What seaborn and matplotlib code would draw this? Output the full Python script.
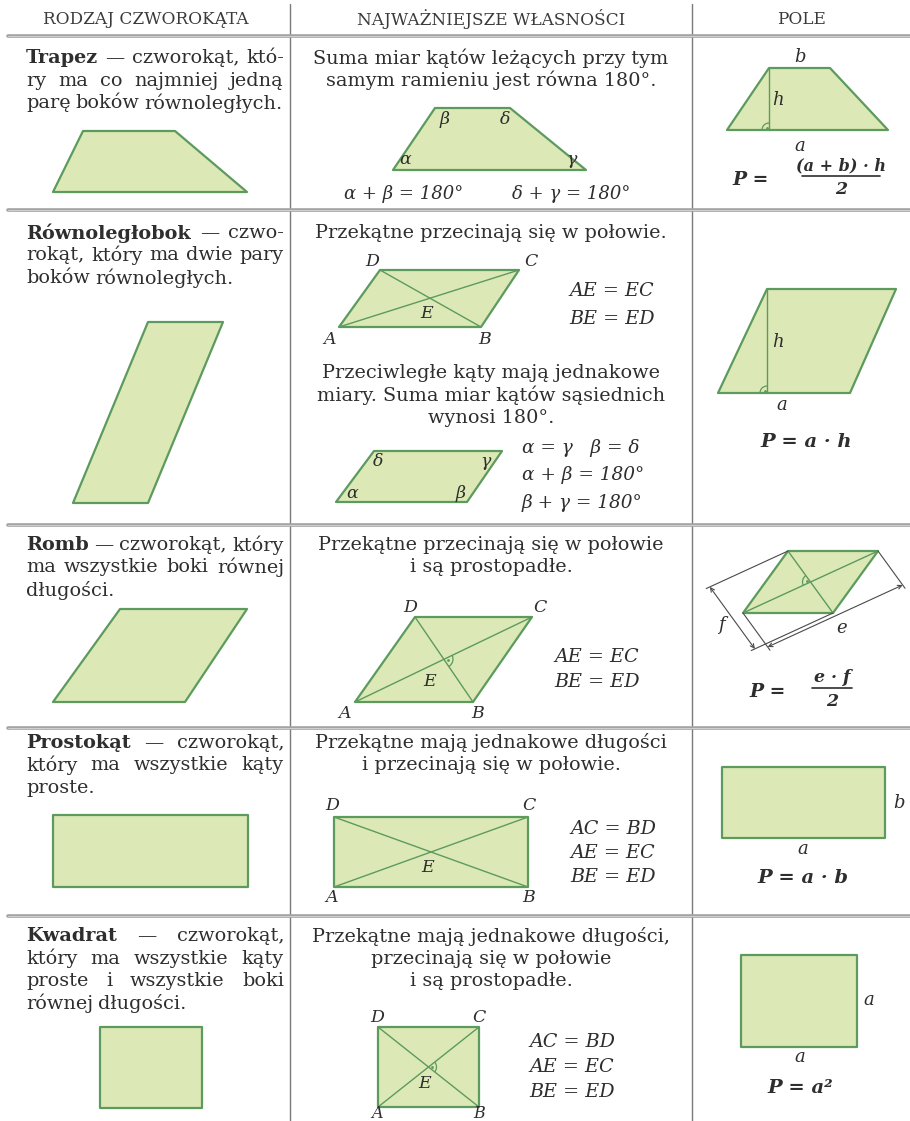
import numpy as np
import seaborn as sns
import matplotlib
matplotlib.use("Agg")
import matplotlib.pyplot as plt
from matplotlib.patches import Polygon, Arc

# Nagłówki kolumn
naglowki = ["RODZAJ CZWOROKĄTA", "NAJWAŻNIEJSZE WŁASNOŚCI", "POLE"]

# Opisy w lewej kolumnie (pierwsze słowo pogrubione)
opisy = [
    ["Trapez — czworokąt, któ-", "ry ma co najmniej jedną", "parę boków równoległych."],
    ["Równoległobok — czwo-", "rokąt, który ma dwie pary", "boków równoległych."],
    ["Romb — czworokąt, który", "ma wszystkie boki równej", "długości."],
    ["Prostokąt — czworokąt,", "który ma wszystkie kąty", "proste."],
    ["Kwadrat — czworokąt,", "który ma wszystkie kąty", "proste i wszystkie boki", "równej długości."],
]

# Własności (środkowa kolumna)
wlasnosci = [
    ["Suma miar kątów leżących przy tym", "samym ramieniu jest równa 180°."],
    ["Przekątne przecinają się w połowie."],
    ["Przeciwległe kąty mają jednakowe", "miary. Suma miar kątów sąsiednich", "wynosi 180°."],
    ["Przekątne przecinają się w połowie", "i są prostopadłe."],
    ["Przekątne mają jednakowe długości", "i przecinają się w połowie."],
    ["Przekątne mają jednakowe długości,", "przecinają się w połowie", "i są prostopadłe."],
]

# Figury - lewa kolumna
trapez_l = [(83, 131), (175, 131), (247, 192), (53, 192)]
rownoleglobok_l = [(148, 322), (223, 322), (148, 503), (73, 503)]
romb_l = [(120, 609), (247, 609), (185, 702), (53, 702)]
prostokat_l = [(53, 815), (248, 815), (248, 887), (53, 887)]
kwadrat_l = [(100, 1027), (202, 1027), (202, 1108), (100, 1108)]

# Figury - środkowa kolumna (kolejność A, B, C, D)
trapez_s = [(393, 170), (586, 170), (510, 108), (435, 108)]
rownoleglobok_s = [(339, 327), (481, 327), (519, 270), (380, 270)]
katy_s = [(336, 502), (467, 502), (502, 451), (374, 451)]
romb_s = [(355, 702), (473, 702), (532, 617), (415, 617)]
prostokat_s = [(334, 887), (528, 887), (528, 817), (334, 817)]
kwadrat_s = [(378, 1107), (479, 1107), (479, 1027), (378, 1027)]

# Figury - prawa kolumna
trapez_p = [(769, 68), (830, 68), (888, 130), (727, 130)]
rownoleglobok_p = [(767, 289), (896, 289), (850, 393), (718, 393)]
romb_p = [(788, 551), (878, 551), (833, 613), (743, 613)]
prostokat_p = [(722, 767), (885, 767), (885, 838), (722, 838)]
kwadrat_p = [(741, 955), (857, 955), (857, 1047), (741, 1047)]

# Wzory
rownosci = {
    "rownoleglobok": ["AE = EC", "BE = ED"],
    "katy": ["α = γ   β = δ", "α + β = 180°", "β + γ = 180°"],
    "romb": ["AE = EC", "BE = ED"],
    "prostokat": ["AC = BD", "AE = EC", "BE = ED"],
    "kwadrat": ["AC = BD", "AE = EC", "BE = ED"],
}

ZIELEN = "#dce9b6"
KRAWEDZ = "#5c9a5e"
TEKST = "#2e2e2e"
SZARY = "#a3a3a3"

sns.set_theme(style="white")
plt.rcParams["font.family"] = ["DejaVu Serif", "DejaVu Sans"]

fig = plt.figure(figsize=(9.1, 11.21), dpi=100)
ax = fig.add_axes([0, 0, 1, 1])
ax.set_xlim(0, 910)
ax.set_ylim(1121, 0)
ax.axis("off")
renderer = fig.canvas.get_renderer()

ROZMIAR = 13.9
SKOK = 22.5


def figura(pts, diagonale=False):
    ax.add_patch(Polygon(pts, closed=True, facecolor=ZIELEN, edgecolor=KRAWEDZ, lw=1.6, joinstyle="round"))
    if diagonale:
        a, b, c, d = pts
        ax.plot([a[0], c[0]], [a[1], c[1]], color=KRAWEDZ, lw=1.0)
        ax.plot([b[0], d[0]], [b[1], d[1]], color=KRAWEDZ, lw=1.0)


def szerokosc(t):
    bb = t.get_window_extent(renderer)
    inv = ax.transData.inverted()
    (x0, _), (x1, _) = inv.transform([(bb.x0, 0), (bb.x1, 0)])
    return x1 - x0


def wyjustuj(linie, y0, x0=26, x1=284):
    spacja = 5.0
    for i, linia in enumerate(linie):
        slowa = linia.split()
        teksty = []
        for j, s in enumerate(slowa):
            waga = "bold" if (i == 0 and j == 0) else "normal"
            teksty.append(ax.text(0, y0 + i * SKOK, s, fontsize=ROZMIAR, fontweight=waga,
                                  color=TEKST, va="center", ha="left"))
        w = [szerokosc(t) for t in teksty]
        if i < len(linie) - 1 and len(slowa) > 1:
            odstep = (x1 - x0 - sum(w)) / (len(slowa) - 1)
        else:
            odstep = spacja
        x = x0
        for t, wi in zip(teksty, w):
            t.set_x(x)
            x += wi + odstep


def wysrodkuj(linie, y0, x=491):
    for i, linia in enumerate(linie):
        ax.text(x, y0 + i * SKOK, linia, fontsize=ROZMIAR, color=TEKST, ha="center", va="center")


def wzor(s, x, y, ha="center", bold=False, size=12.5):
    ax.text(x, y, s, fontsize=size, style="italic", fontweight="bold" if bold else "normal",
            color=TEKST, ha=ha, va="center")


def ulamek(x_p, x, y, licznik, mianownik, pol, size=12):
    wzor("P =", x_p, y + 8, bold=True, size=13.5)
    wzor(licznik, x, y - 6, bold=True, size=size)
    ax.plot([x - pol, x + pol], [y + 4, y + 4], color=TEKST, lw=1.2)
    wzor(mianownik, x, y + 17, bold=True, size=12.5)


def kat_prosty(x, y, t1, t2, r=8):
    ax.add_patch(Arc((x, y), 2 * r, 2 * r, theta1=t1, theta2=t2, color=KRAWEDZ, lw=0.9))
    sr = np.deg2rad((t1 + t2) / 2)
    ax.plot([x + 0.45 * r * np.cos(sr)], [y + 0.45 * r * np.sin(sr)], ".", color=KRAWEDZ, ms=2)


# Linie tabeli
for xv in [290, 692]:
    ax.plot([xv, xv], [4, 1121], color="#7a7a7a", lw=1.0)
for yh in [36, 210, 525, 728, 916]:
    ax.plot([8, 910], [yh, yh], color=SZARY, lw=2.6)
    ax.plot([8, 910], [yh, yh], color="#d8d8d8", lw=0.6)

for nag, xc in zip(naglowki, [146, 491, 801]):
    ax.text(xc, 19, nag, fontsize=12.2, color="#3a3a3a", ha="center", va="center")

# Lewa kolumna
for linie, y0 in zip(opisy, [58, 233, 545, 743, 936]):
    wyjustuj(linie, y0)
for pts in [trapez_l, rownoleglobok_l, romb_l, prostokat_l, kwadrat_l]:
    figura(pts)

# Środkowa kolumna - teksty
for linie, y0 in zip(wlasnosci, [58, 233, 373, 545, 743, 936]):
    wysrodkuj(linie, y0)

# Trapez
figura(trapez_s)
for s, (x, y) in zip(["α", "γ", "δ", "β"], [(405, 160), (572, 160), (505, 120), (445, 120)]):
    wzor(s, x, y, size=12.5)
wzor("α + β = 180°", 404, 194, size=13)
wzor("δ + γ = 180°", 571, 194, size=13)

# Równoległobok
figura(rownoleglobok_s, diagonale=True)
for s, (x, y) in zip("ABCDE", [(330, 339), (485, 339), (531, 262), (372, 262), (427, 313)]):
    wzor(s, x, y, size=12.5)
for i, s in enumerate(rownosci["rownoleglobok"]):
    wzor(s, 612, 291 + i * 28, size=13.8)

figura(katy_s)
for s, (x, y) in zip(["α", "β", "γ", "δ"], [(352, 494), (461, 494), (485, 462), (378, 462)]):
    wzor(s, x, y, size=12.5)
for i, s in enumerate(rownosci["katy"]):
    wzor(s, 522, 448 + i * 27.5, ha="left", size=13.3)

# Romb
figura(romb_s, diagonale=True)
for s, (x, y) in zip("ABCDE", [(345, 714), (478, 714), (540, 607), (410, 607), (430, 681)]):
    wzor(s, x, y, size=12.5)
kat_prosty(444, 659, -26, 56, r=9)
for i, s in enumerate(rownosci["romb"]):
    wzor(s, 597, 657 + i * 25, size=13.8)

# Prostokąt
figura(prostokat_s, diagonale=True)
for s, (x, y) in zip("ABCDE", [(332, 898), (529, 898), (529, 806), (332, 806), (428, 868)]):
    wzor(s, x, y, size=12.5)
for i, s in enumerate(rownosci["prostokat"]):
    wzor(s, 613, 829 + i * 24, size=13.8)

# Kwadrat
figura(kwadrat_s, diagonale=True)
for s, (x, y) in zip("CDE", [(479, 1018), (377, 1018), (425, 1084)]):
    wzor(s, x, y, size=12.5)
for s, x in zip("AB", [377, 479]):
    wzor(s, x, 1113.5, size=11.5)
kat_prosty(428.5, 1067, -38, 38, r=8)
for i, s in enumerate(rownosci["kwadrat"]):
    wzor(s, 572, 1042 + i * 25, size=13.8)

# Prawa kolumna
figura(trapez_p)
ax.plot([769, 769], [68, 130], color=KRAWEDZ, lw=1.0)
kat_prosty(769, 130, 180, 270, r=7)
wzor("b", 800, 57, size=13)
wzor("h", 778, 100, size=13)
wzor("a", 800, 146, size=13)
ulamek(751, 841, 172, "(a + b) · h", "2", 39, size=11.5)

figura(rownoleglobok_p)
ax.plot([767, 767], [289, 393], color=KRAWEDZ, lw=1.0)
kat_prosty(767, 393, 180, 270, r=7)
wzor("h", 778, 342, size=13)
wzor("a", 782, 405, size=13)
wzor("P = a · h", 806, 442, bold=True, size=14)

# Romb z wymiarami przekątnych
figura(romb_p)
p1, q1, p2, q2 = np.array(romb_p[3]), np.array(romb_p[0]), np.array(romb_p[1]), np.array(romb_p[2])
ax.plot([p1[0], p2[0]], [p1[1], p2[1]], color=KRAWEDZ, lw=1.0)
ax.plot([q1[0], q2[0]], [q1[1], q2[1]], color=KRAWEDZ, lw=1.0)
ue = (p2 - p1) / np.linalg.norm(p2 - p1)
uf = (q2 - q1) / np.linalg.norm(q2 - q1)
de, df = 42, 86
for a_, b_ in [(p1, p1 + (de + 4) * uf), (p2, p2 + (de + 4) * uf),
               (q1, q1 - (df + 4) * ue), (q2, q2 - (df + 4) * ue)]:
    ax.plot([a_[0], b_[0]], [a_[1], b_[1]], color="#4a4a4a", lw=0.8)
for a_, b_ in [(p1 + de * uf, p2 + de * uf), (q1 - df * ue, q2 - df * ue)]:
    ax.annotate("", xy=b_, xytext=a_,
                arrowprops=dict(arrowstyle="<->", lw=0.8, color="#4a4a4a",
                                shrinkA=0, shrinkB=0, mutation_scale=7))
kat_prosty(810.5, 582, 155, 235, r=8)
wzor("f", 721, 625, size=13)
wzor("e", 842, 628, size=13)
ulamek(768, 832, 684, "e · f", "2", 20, size=12.5)

figura(prostokat_p)
wzor("b", 899, 803, size=13)
wzor("a", 803, 849, size=13)
wzor("P = a · b", 803, 878, bold=True, size=14)

figura(kwadrat_p)
wzor("a", 869, 1000, size=13)
wzor("a", 800, 1057, size=13)
wzor("P = a²", 800, 1088, bold=True, size=14)

fig.savefig("out.png", dpi=100)
